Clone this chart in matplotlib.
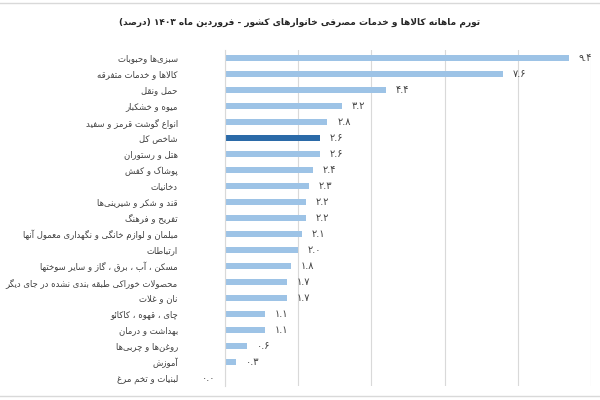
import matplotlib
matplotlib.use("Agg")
import matplotlib.pyplot as plt
from matplotlib.lines import Line2D

# --- data ---
title = "تورم ماهانه کالاها و خدمات مصرفی خانوارهای کشور - فروردین ماه ۱۴۰۳ (درصد)"
categories = [
    "سبزی‌ها وحبوبات",
    "کالاها و خدمات متفرقه",
    "حمل ونقل",
    "میوه و خشکبار",
    "انواع گوشت قرمز و سفید",
    "شاخص کل",
    "هتل و رستوران",
    "پوشاک و کفش",
    "دخانیات",
    "قند و شکر و شیرینی‌ها",
    "تفریح و فرهنگ",
    "مبلمان و لوازم خانگی و نگهداری معمول آنها",
    "ارتباطات",
    "مسکن ، آب ، برق ، گاز و سایر سوختها",
    "محصولات خوراکی طبقه بندی نشده در جای دیگر",
    "نان و غلات",
    "چای ، قهوه ، کاکائو",
    "بهداشت و درمان",
    "روغن‌ها و چربی‌ها",
    "آموزش",
    "لبنیات و تخم مرغ",
]
values = [9.4, 7.6, 4.4, 3.2, 2.8, 2.6, 2.6, 2.4, 2.3, 2.2, 2.2,
          2.1, 2.0, 1.8, 1.7, 1.7, 1.1, 1.1, 0.6, 0.3, 0.0]
highlight = "شاخص کل"

# --- minimal Arabic/Persian shaping (matplotlib has no shaping/bidi) ---
# forms: isolated, final, initial, medial (right-joining letters have 2)
FORMS = {
    'ا': (0xFE8D, 0xFE8E), 'آ': (0xFE81, 0xFE82),
    'ب': (0xFE8F, 0xFE90, 0xFE91, 0xFE92), 'پ': (0xFB56, 0xFB57, 0xFB58, 0xFB59),
    'ت': (0xFE95, 0xFE96, 0xFE97, 0xFE98), 'ث': (0xFE99, 0xFE9A, 0xFE9B, 0xFE9C),
    'ج': (0xFE9D, 0xFE9E, 0xFE9F, 0xFEA0), 'چ': (0xFB7A, 0xFB7B, 0xFB7C, 0xFB7D),
    'ح': (0xFEA1, 0xFEA2, 0xFEA3, 0xFEA4), 'خ': (0xFEA5, 0xFEA6, 0xFEA7, 0xFEA8),
    'د': (0xFEA9, 0xFEAA), 'ذ': (0xFEAB, 0xFEAC), 'ر': (0xFEAD, 0xFEAE),
    'ز': (0xFEAF, 0xFEB0), 'ژ': (0xFB8A, 0xFB8B),
    'س': (0xFEB1, 0xFEB2, 0xFEB3, 0xFEB4), 'ش': (0xFEB5, 0xFEB6, 0xFEB7, 0xFEB8),
    'ص': (0xFEB9, 0xFEBA, 0xFEBB, 0xFEBC), 'ض': (0xFEBD, 0xFEBE, 0xFEBF, 0xFEC0),
    'ط': (0xFEC1, 0xFEC2, 0xFEC3, 0xFEC4), 'ظ': (0xFEC5, 0xFEC6, 0xFEC7, 0xFEC8),
    'ع': (0xFEC9, 0xFECA, 0xFECB, 0xFECC), 'غ': (0xFECD, 0xFECE, 0xFECF, 0xFED0),
    'ف': (0xFED1, 0xFED2, 0xFED3, 0xFED4), 'ق': (0xFED5, 0xFED6, 0xFED7, 0xFED8),
    'ک': (0xFB8E, 0xFB8F, 0xFB90, 0xFB91), 'گ': (0xFB92, 0xFB93, 0xFB94, 0xFB95),
    'ل': (0xFEDD, 0xFEDE, 0xFEDF, 0xFEE0), 'م': (0xFEE1, 0xFEE2, 0xFEE3, 0xFEE4),
    'ن': (0xFEE5, 0xFEE6, 0xFEE7, 0xFEE8), 'و': (0xFEED, 0xFEEE),
    'ه': (0xFEE9, 0xFEEA, 0xFEEB, 0xFEEC), 'ی': (0xFBFC, 0xFBFD, 0xFBFE, 0xFBFF),
    'ئ': (0xFE89, 0xFE8A, 0xFE8B, 0xFE8C),
}
LAM_ALEF = {'ا': (0xFEFB, 0xFEFC), 'آ': (0xFEF5, 0xFEF6)}
DIGITS = set("۰۱۲۳۴۵۶۷۸۹0123456789")


def dual(c):
    return c in FORMS and len(FORMS[c]) == 4


def shape(text):
    chars = list(text)
    out = []
    i = 0
    while i < len(chars):
        c = chars[i]
        if c not in FORMS:
            if c != '\u200c':
                out.append(c)
            i += 1
            continue
        prev_joins = i > 0 and dual(chars[i - 1])
        # lam + alef ligature
        if c == 'ل' and i + 1 < len(chars) and chars[i + 1] in LAM_ALEF:
            iso, fin = LAM_ALEF[chars[i + 1]]
            out.append(chr(fin if prev_joins else iso))
            i += 2
            continue
        next_joins = dual(c) and i + 1 < len(chars) and chars[i + 1] in FORMS
        f = FORMS[c]
        if prev_joins and next_joins:
            out.append(chr(f[3]))
        elif next_joins:
            out.append(chr(f[2]))
        elif prev_joins:
            out.append(chr(f[1]))
        else:
            out.append(chr(f[0]))
        i += 1
    return out


def rtl(text):
    chars = shape(text)
    # group digit runs so they keep left-to-right order
    tokens = []
    for c in chars:
        is_num = c in DIGITS
        if tokens and tokens[-1][0] and is_num:
            tokens[-1][1].append(c)
        else:
            tokens.append([is_num, [c]])
    res = []
    for is_num, run in reversed(tokens):
        if is_num:
            res.extend(run)
        else:
            for c in reversed(run):
                res.append({'(': ')', ')': '('}.get(c, c))
    return ''.join(res)


def fa_num(v):
    s = f"{v:.1f}"
    return s.translate(str.maketrans("0123456789", "۰۱۲۳۴۵۶۷۸۹"))


plt.rcParams['font.family'] = ['DejaVu Sans']

fig = plt.figure(figsize=(6, 4), dpi=100)
ax = fig.add_axes([0.375, 0.035, 0.61, 0.84])

light = "#9dc3e6"
dark = "#2b6aa8"
colors = [dark if c == highlight else light for c in categories]
ypos = list(range(len(categories)))

ax.barh(ypos, values, height=0.36, color=colors, zorder=2)
ax.set_ylim(len(categories) - 0.5, -0.5)
ax.set_xlim(0, 10)
ax.set_xticks([0, 2, 4, 6, 8, 10])
ax.xaxis.grid(True, color="#d9d9d9", linewidth=0.8, zorder=0)
ax.set_xticklabels([])
ax.tick_params(axis='x', length=0)
ax.tick_params(axis='y', length=0, pad=34)
ax.set_yticks(ypos)
ax.set_yticklabels([rtl(c) for c in categories], fontsize=6.15, color="#404040")
for s in ['top', 'right', 'bottom']:
    ax.spines[s].set_visible(False)
ax.spines['left'].set_color("#d9d9d9")
ax.spines['left'].set_linewidth(0.8)

for y, v in zip(ypos, values):
    if v > 0:
        ax.annotate(fa_num(v), (v, y), xytext=(7, 0), textcoords='offset points',
                    ha='left', va='center', fontsize=7, color="#404040")
    else:
        ax.annotate(fa_num(v), (0, y), xytext=(-7, 0), textcoords='offset points',
                    ha='right', va='center', fontsize=7, color="#404040",
                    annotation_clip=False)

fig.text(0.5, 0.945, rtl(title), ha='center', va='center', fontsize=6.5,
         fontweight='bold', color="#262626")

# thin frame lines at top and bottom of the picture
fig.add_artist(Line2D([0, 1], [0.992, 0.992], color="#d9d9d9", linewidth=1))
fig.add_artist(Line2D([0, 1], [0.01, 0.01], color="#d9d9d9", linewidth=1))

fig.savefig("out.png", dpi=100)
